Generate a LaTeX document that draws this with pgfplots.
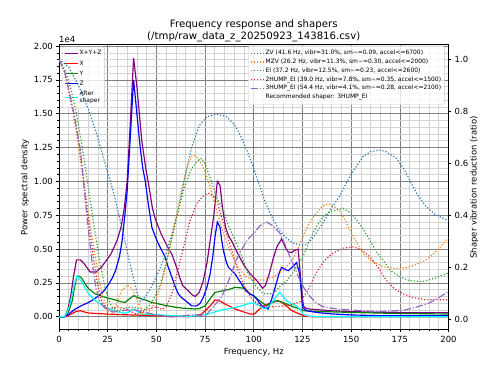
\documentclass[border=0pt]{standalone}
\usepackage{fontspec}
\setmainfont{DejaVu Sans}
\usepackage{pgfplots}
\pgfplotsset{compat=1.18}
\definecolor{mgrey}{HTML}{808080}
\definecolor{mlgrey}{HTML}{D3D3D3}
\definecolor{legedge}{HTML}{CCCCCC}
\definecolor{mpurple}{HTML}{800080}
\definecolor{mred}{HTML}{FF0000}
\definecolor{mgreen}{HTML}{008000}
\definecolor{mblue}{HTML}{0000FF}
\definecolor{mcyan}{HTML}{00FFFF}
\definecolor{tabblue}{HTML}{1F77B4}
\definecolor{taborange}{HTML}{FF7F0E}
\definecolor{tabgreen}{HTML}{2CA02C}
\definecolor{tabred}{HTML}{D62728}
\definecolor{tabpurple}{HTML}{9467BD}
\pgfplotsset{
  common/.style={
    at={(59bp,45.3bp)}, anchor=south west, scale only axis,
    width=389.5bp, height=285bp, xmin=0, xmax=200,
    axis line style={line width=0.62bp},
    tick style={black, line width=0.62bp},
    major tick length=2.7bp, minor tick length=1.56bp,
    tick align=outside,
    /pgf/number format/assume math mode=true,
    tick label style={font=\fontsize{8.5}{10}\selectfont},
    legend image code/.code={\draw[##1] (0bp,0bp) -- (13bp,0bp);},
    every axis plot/.append style={line width=1.17bp},
    legend cell align=left,
  },
  dotstyle/.style={dash pattern=on 1.17bp off 1.93bp},
  dashdotstyle/.style={dash pattern=on 7.5bp off 1.87bp on 1.17bp off 1.87bp},
}
\begin{document}
\begin{tikzpicture}
\path[use as bounding box] (0,0) rectangle (499bp,375bp);
\begin{axis}[common,
  ymin=-0.096, ymax=2.01,
  xtick={0,25,50,75,100,125,150,175,200}, minor x tick num=4,
  ytick={0,0.25,0.5,0.75,1,1.25,1.5,1.75,2}, minor y tick num=4,
  xtick pos=left, ytick pos=left,
  scaled y ticks=false,
  yticklabel style={/pgf/number format/.cd, fixed, fixed zerofill, precision=2},
  grid=both,
  major grid style={color=mgrey, line width=0.62bp},
  minor grid style={color=mlgrey, line width=0.62bp},
  legend style={at={(0,1)}, anchor=north west, xshift=3bp, yshift=-2bp,
    font=\fontsize{6}{7}\selectfont, draw=legedge, fill=white, fill opacity=0.8,
    text opacity=1, rounded corners=1.5bp, inner xsep=2bp, inner ysep=2.5bp,
    row sep=1.8bp, cells={align=left},
    nodes={inner sep=1.2bp}},
]
\addplot[mpurple] coordinates {(0,0) (3,0.0) (4.5,0.05) (6,0.15) (7.5,0.3) (9,0.42) (11,0.42) (13,0.39) (16,0.33) (19,0.33) (22,0.37) (24,0.41) (26.5,0.46) (28.5,0.52) (30,0.57) (32,0.67) (33.5,0.8) (35,1.0) (36.5,1.4) (38.3,1.91) (40,1.7) (42.5,1.3) (44.5,1.1) (46,0.98) (48,0.8) (49.5,0.72) (52.5,0.61) (56,0.51) (58,0.46) (60,0.38) (62,0.29) (63.5,0.23) (66.5,0.19) (68.5,0.16) (70,0.15) (72,0.18) (74,0.26) (76,0.4) (78,0.6) (79.5,0.75) (81.3,1.0) (82.7,0.97) (84,0.8) (85.5,0.66) (87,0.6) (89,0.55) (92,0.46) (95,0.38) (98,0.32) (100,0.29) (102,0.26) (104.5,0.21) (106,0.23) (108,0.32) (110,0.43) (112,0.52) (114.3,0.575) (116,0.52) (117.5,0.48) (119.5,0.475) (121,0.49) (122.8,0.5) (123.7,0.35) (124.5,0.2) (125.5,0.08) (127,0.06) (130,0.055) (140,0.044) (150,0.038) (166,0.032) (180,0.03) (200,0.03)};
\addlegendentry{X+Y+Z}
\addplot[mred] coordinates {(0,0) (3,0) (5,0.01) (7,0.025) (9,0.04) (11,0.044) (13,0.035) (15.3,0.027) (23.8,0.02) (32.4,0.015) (40,0.012) (49.4,0.007) (58,0.004) (66.5,0.0) (70,0.005) (73.3,0.02) (75.5,0.05) (77.6,0.08) (80.1,0.124) (82,0.12) (85.3,0.094) (90.4,0.057) (95.5,0.032) (98,0.02) (100.3,0.02) (103,0.057) (105,0.075) (107.4,0.094) (110,0.11) (112.5,0.118) (114.5,0.105) (116.8,0.08) (119,0.05) (121,0.035) (123.6,0.02) (126.2,0.003) (130,0) (200,0)};
\addlegendentry{X}
\addplot[mgreen] coordinates {(0,0) (3,0) (5,0.04) (6.8,0.118) (8,0.22) (9.3,0.30) (10.5,0.3) (11.9,0.28) (13.5,0.24) (15.3,0.205) (18.7,0.168) (23.8,0.143) (28.9,0.124) (32,0.11) (34,0.106) (36,0.13) (38.3,0.155) (40,0.145) (42.6,0.131) (45,0.12) (47.7,0.106) (52.8,0.089) (58,0.074) (63.1,0.064) (66.5,0.06) (69.9,0.057) (72,0.06) (75,0.08) (77.5,0.13) (80.1,0.18) (83.6,0.19) (87,0.2) (90.4,0.217) (95.5,0.21) (98,0.17) (100.3,0.15) (103,0.118) (106.6,0.08) (109,0.1) (111.7,0.118) (114,0.11) (116.8,0.094) (120,0.075) (123.6,0.057) (126.2,0.044) (135,0.038) (149,0.032) (170,0.025) (200,0.02)};
\addlegendentry{Y}
\addplot[mblue] coordinates {(0,0) (3,0) (5,0.02) (8.4,0.057) (12,0.085) (15.3,0.106) (18,0.13) (20.4,0.155) (23,0.19) (25.5,0.24) (27.5,0.29) (29,0.34) (31,0.44) (32.4,0.56) (33.8,0.75) (35,0.93) (36.5,1.3) (38.3,1.75) (40,1.5) (41.7,1.25) (43,1.1) (44.3,1.0) (46,0.82) (47.7,0.66) (49.5,0.59) (51,0.54) (54.5,0.44) (56,0.37) (58,0.29) (60,0.21) (61.3,0.168) (63,0.14) (64.8,0.12) (66.5,0.1) (68.2,0.08) (70.8,0.08) (72.5,0.1) (74.1,0.143) (76,0.22) (77.6,0.316) (79,0.45) (80.1,0.59) (81.3,0.70) (82.7,0.66) (83.5,0.57) (84.4,0.49) (86,0.4) (87,0.365) (90.4,0.316) (93.8,0.24) (96,0.19) (98,0.168) (100,0.155) (101.5,0.131) (103,0.1) (104.9,0.069) (107.4,0.057) (109,0.12) (111,0.217) (113,0.32) (114.3,0.365) (116,0.35) (117.7,0.34) (120,0.37) (122,0.40) (123.6,0.316) (124.3,0.2) (125,0.069) (127,0.044) (133,0.03) (140.7,0.02) (150,0.013) (166,0.007) (200,0.007)};
\addlegendentry{Z}
\addplot[mcyan] coordinates {(0,0) (3,0) (5,0.06) (6.8,0.168) (8,0.25) (9.3,0.30) (10.5,0.28) (11.9,0.254) (13.5,0.21) (15.3,0.168) (18.7,0.118) (23.8,0.069) (28.9,0.04) (34,0.025) (36.5,0.04) (38.3,0.057) (40,0.04) (42.6,0.02) (49.4,0.015) (58,0.008) (66.5,0.003) (72,0.008) (76.7,0.02) (80,0.035) (83.6,0.05) (88,0.062) (92.1,0.074) (96,0.09) (98,0.1) (100.3,0.1) (103,0.08) (105.7,0.057) (108,0.08) (110,0.118) (113.4,0.18) (115,0.15) (116.8,0.118) (119,0.1) (122,0.08) (124,0.05) (125.3,0.02) (128,0.005) (132,0) (200,0)};
\addlegendentry{After\\shaper}
\end{axis}
\begin{axis}[common,
  ymin=-0.038, ymax=1.056,
  axis x line=none, axis y line*=right,
  ytick={0,0.2,0.4,0.6,0.8,1.0},
  yticklabel style={/pgf/number format/.cd, fixed, fixed zerofill, precision=1},
  legend style={at={(1,1)}, anchor=north east, xshift=-4bp, yshift=-1bp,
    font=\fontsize{6}{7}\selectfont, draw=legedge, fill=white, fill opacity=0.8,
    text opacity=1, rounded corners=1.5bp, inner xsep=2bp, inner ysep=3bp,
    row sep=0.4bp, nodes={inner sep=1.2bp}},
]
\addplot[tabblue, dotstyle] coordinates {(0,1.0) (5,0.97) (10,0.9) (15,0.81) (19.5,0.71) (24,0.59) (28,0.49) (32.4,0.35) (36.6,0.21) (40,0.105) (41.7,0.07) (44,0.085) (47,0.12) (50,0.165) (54.5,0.245) (58,0.33) (61.3,0.42) (65,0.56) (68,0.66) (72,0.745) (76,0.78) (81,0.79) (86,0.78) (90,0.75) (93,0.71) (96.4,0.652) (100,0.58) (103.2,0.511) (106,0.45) (110,0.384) (113,0.345) (116.8,0.313) (120,0.295) (123.7,0.287) (127,0.29) (130,0.31) (135,0.365) (140,0.43) (144,0.473) (149.3,0.55) (156,0.626) (160,0.645) (164.6,0.652) (168,0.645) (173.2,0.62) (177,0.58) (180,0.537) (184,0.48) (188.5,0.435) (193,0.405) (198.8,0.384) (200,0.38)};
\addlegendentry{ZV (41.6 Hz, vibr=31.0\%, sm\textasciitilde=0.09, accel<=6700)}
\addplot[taborange, dotstyle] coordinates {(0,1.0) (3,0.95) (6,0.85) (9,0.72) (12,0.56) (15,0.41) (18,0.27) (21,0.14) (24,0.05) (26,0.02) (28,0.03) (30,0.07) (32,0.11) (35,0.134) (38,0.115) (41,0.06) (43,0.025) (45,0.02) (48,0.05) (51,0.1) (54,0.18) (57,0.28) (60,0.39) (63,0.5) (66,0.59) (68.2,0.629) (70,0.63) (72,0.615) (75,0.57) (77.6,0.511) (81,0.42) (84.4,0.333) (88,0.26) (92,0.2) (96,0.165) (100,0.152) (105,0.153) (110,0.165) (115,0.19) (120,0.23) (123,0.28) (125.3,0.32) (128,0.365) (132.2,0.41) (135,0.435) (138.1,0.445) (141,0.437) (144,0.42) (147,0.38) (149.3,0.345) (153,0.295) (156,0.256) (160,0.228) (166.3,0.204) (172,0.198) (176.5,0.198) (182,0.208) (188.5,0.23) (194,0.265) (200,0.315)};
\addlegendentry{MZV (26.2 Hz, vibr=11.3\%, sm\textasciitilde=0.30, accel<=2000)}
\addplot[tabgreen, dotstyle] coordinates {(0,1.0) (3,0.96) (6,0.89) (9,0.79) (12,0.66) (15,0.51) (18,0.36) (21,0.22) (24,0.11) (27,0.05) (30,0.035) (34,0.045) (37,0.05) (40,0.045) (44,0.04) (47,0.06) (50,0.1) (53,0.16) (56,0.25) (60,0.38) (64,0.5) (68,0.58) (71,0.61) (73.3,0.62) (75,0.6) (77.6,0.544) (81,0.47) (84.4,0.42) (87,0.36) (89.5,0.32) (93,0.26) (97,0.18) (101,0.13) (105,0.1) (110,0.1) (113.4,0.128) (117,0.15) (120,0.18) (125.3,0.243) (129,0.31) (132.2,0.358) (136,0.4) (139,0.415) (145.8,0.428) (150,0.41) (152.7,0.384) (156,0.35) (159.5,0.307) (163,0.26) (166.3,0.23) (170,0.19) (174.8,0.166) (180,0.15) (186.8,0.147) (193,0.16) (200,0.18)};
\addlegendentry{EI (37.2 Hz, vibr=12.5\%, sm\textasciitilde=0.23, accel<=2600)}
\addplot[tabred, dotstyle] coordinates {(0,1.0) (3,0.95) (6,0.84) (8,0.77) (10,0.69) (12,0.58) (14,0.45) (16,0.33) (18,0.22) (20,0.13) (22,0.07) (25,0.04) (30,0.05) (35,0.04) (40,0.02) (45,0.04) (50,0.05) (53,0.04) (55,0.05) (58,0.1) (61,0.19) (64,0.28) (67.3,0.38) (70.8,0.447) (74,0.475) (77,0.486) (80,0.47) (81,0.46) (84.4,0.37) (87.8,0.29) (91,0.21) (95,0.13) (99,0.08) (103,0.055) (110,0.05) (118,0.055) (124,0.07) (128,0.115) (132,0.18) (136,0.225) (140.7,0.256) (146,0.275) (151,0.28) (155,0.27) (159.5,0.243) (164,0.2) (168,0.153) (172,0.12) (176.5,0.1) (182,0.085) (188.5,0.077) (200,0.077)};
\addlegendentry{2HUMP\_EI (39.0 Hz, vibr=7.8\%, sm\textasciitilde=0.35, accel<=1500)}
\addplot[tabpurple, dashdotstyle] coordinates {(0,1.0) (3,0.95) (6,0.85) (8,0.78) (11,0.65) (13,0.5) (15,0.35) (17,0.22) (19,0.12) (21,0.07) (24,0.04) (28,0.03) (33,0.035) (38,0.04) (43,0.03) (50,0.02) (57,0.01) (63,0.015) (70,0.02) (75,0.013) (78,0.04) (81,0.065) (83.6,0.09) (86,0.13) (88.7,0.18) (91,0.23) (93.8,0.27) (97,0.31) (100.3,0.333) (103,0.36) (106.6,0.375) (110,0.36) (113.4,0.333) (116,0.29) (118.5,0.243) (121,0.2) (123.6,0.153) (126,0.12) (128.8,0.09) (132,0.065) (135.6,0.05) (142,0.042) (149,0.038) (160,0.033) (166,0.032) (172,0.034) (178,0.038) (184,0.05) (190,0.064) (195,0.085) (200,0.108)};
\addlegendentry{3HUMP\_EI (54.4 Hz, vibr=4.1\%, sm\textasciitilde=0.28, accel<=2100)}
\addlegendimage{empty legend}
\addlegendentry{Recommended shaper: 3HUMP\_EI}
\end{axis}
\node[anchor=base, font=\fontsize{10.2}{12}\selectfont] at (253.75bp,347.7bp) {Frequency response and shapers};
\node[anchor=base, font=\fontsize{10.2}{12}\selectfont] at (253.75bp,335.7bp) {(/tmp/raw\_data\_z\_20250923\_143816.csv)};
\node[anchor=base west, inner sep=0pt, font=\fontsize{8.5}{10}\selectfont] at (59bp,332.5bp) {1e4};
\node[anchor=base, inner sep=0pt, font=\fontsize{8.5}{10}\selectfont] at (253.75bp,21bp) {Frequency, Hz};
\node[rotate=90, inner sep=0pt, font=\fontsize{8.5}{10}\selectfont] at (25bp,187.8bp) {Power spectral density};
\node[rotate=90, inner sep=0pt, font=\fontsize{8.5}{10}\selectfont] at (474.2bp,187.5bp) {Shaper vibration reduction (ratio)};
\end{tikzpicture}
\end{document}
